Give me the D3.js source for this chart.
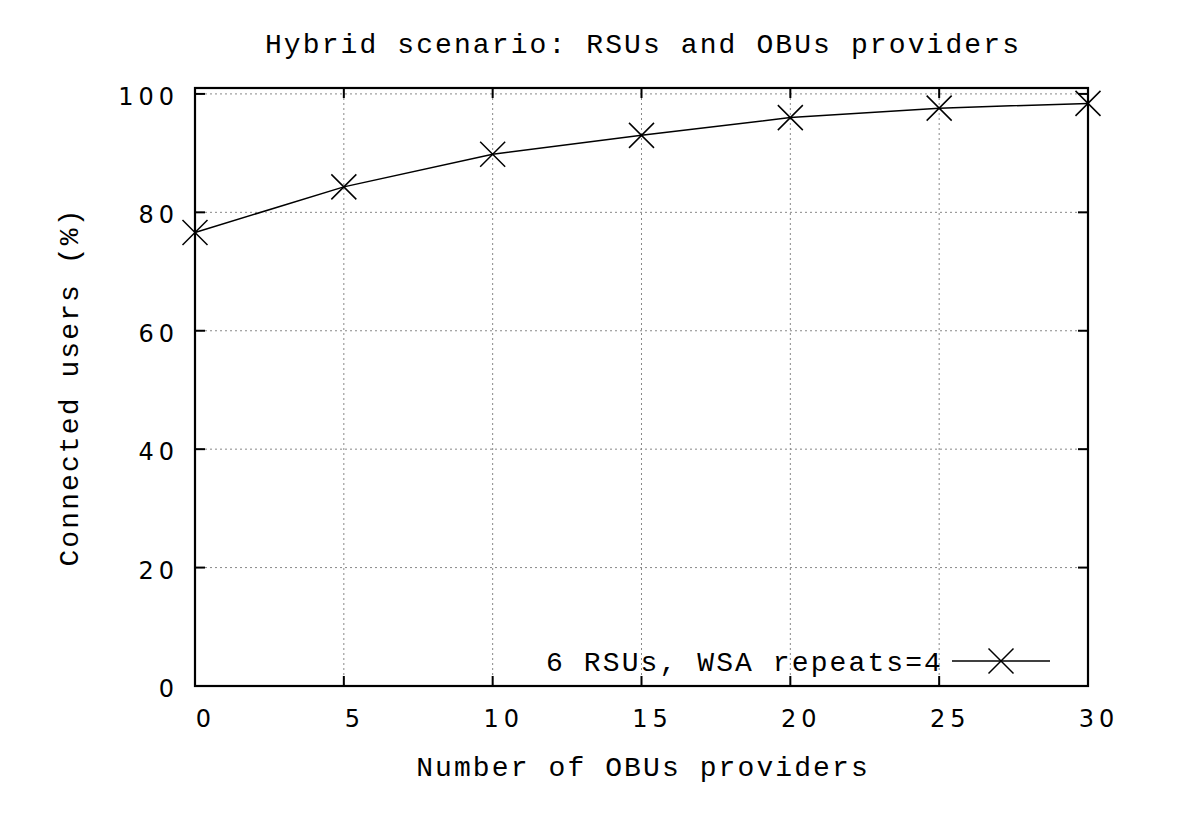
<!DOCTYPE html>
<html>
<head>
<meta charset="utf-8">
<script src="https://cdn.jsdelivr.net/npm/d3@7"></script>
<style>
  body { margin: 0; background: #fff; }
  .mono { font-family: "Liberation Mono", "DejaVu Sans Mono", monospace; font-size: 28px; letter-spacing: 2.1px; fill: #000; }
  .tick-label { font-family: "DejaVu Sans", sans-serif; font-size: 24px; letter-spacing: 5px; fill: #000; }
</style>
</head>
<body>
<script>
// data
const providers = [0, 5, 10, 15, 20, 25, 30]
const connected = [76.6, 84.3, 89.8, 93.0, 96.0, 97.6, 98.4]
const xTicks = [0, 5, 10, 15, 20, 25, 30]
const yTicks = [0, 20, 40, 60, 80, 100]
const seriesName = '6 RSUs, WSA repeats=4'

const WIDTH = 1200
const HEIGHT = 838
const M = { left: 195, right: 1088, top: 88, bottom: 686 }

const svg = d3.select('body').append('svg')
  .attr('width', WIDTH)
  .attr('height', HEIGHT)

const x = d3.scaleLinear().domain([0, 30]).range([M.left, M.right])
const y = d3.scaleLinear().domain([0, 101]).range([M.bottom, M.top])

// grid
svg.append('g').selectAll('line.gx')
  .data(xTicks.slice(1, -1))
  .enter().append('line')
  .attr('x1', d => x(d)).attr('x2', d => x(d))
  .attr('y1', M.top).attr('y2', M.bottom)
  .attr('stroke', '#888').attr('stroke-width', 1).attr('stroke-dasharray', '2,3')

svg.append('g').selectAll('line.gy')
  .data(yTicks.slice(1))
  .enter().append('line')
  .attr('x1', M.left).attr('x2', M.right)
  .attr('y1', d => y(d)).attr('y2', d => y(d))
  .attr('stroke', '#888').attr('stroke-width', 1).attr('stroke-dasharray', '2,3')

// ticks on all four sides, pointing inward
const TICK = 10
const tickG = svg.append('g').attr('stroke', '#000').attr('stroke-width', 2)
xTicks.forEach(d => {
  tickG.append('line').attr('x1', x(d)).attr('x2', x(d)).attr('y1', M.bottom).attr('y2', M.bottom - TICK)
  tickG.append('line').attr('x1', x(d)).attr('x2', x(d)).attr('y1', M.top).attr('y2', M.top + TICK)
})
yTicks.forEach(d => {
  tickG.append('line').attr('x1', M.left).attr('x2', M.left + TICK).attr('y1', y(d)).attr('y2', y(d))
  tickG.append('line').attr('x1', M.right).attr('x2', M.right - TICK).attr('y1', y(d)).attr('y2', y(d))
})

// frame
svg.append('rect')
  .attr('x', M.left).attr('y', M.top)
  .attr('width', M.right - M.left).attr('height', M.bottom - M.top)
  .attr('fill', 'none').attr('stroke', '#000').attr('stroke-width', 2.2)

// tick labels
svg.append('g').selectAll('text')
  .data(xTicks)
  .enter().append('text')
  .attr('class', 'tick-label')
  .attr('x', d => x(d) + 11)
  .attr('y', 727)
  .attr('text-anchor', 'middle')
  .text(d => d)

svg.append('g').selectAll('text')
  .data(yTicks)
  .enter().append('text')
  .attr('class', 'tick-label')
  .attr('x', 179)
  .attr('y', d => y(d) + 11)
  .attr('text-anchor', 'end')
  .text(d => d)

// titles
svg.append('text').attr('class', 'mono')
  .attr('x', 643).attr('y', 53).attr('text-anchor', 'middle')
  .text('Hybrid scenario: RSUs and OBUs providers')

svg.append('text').attr('class', 'mono')
  .attr('x', 643).attr('y', 776).attr('text-anchor', 'middle')
  .text('Number of OBUs providers')

svg.append('text').attr('class', 'mono')
  .attr('transform', 'translate(78,387) rotate(-90)')
  .attr('text-anchor', 'middle')
  .text('Connected users (%)')

// series
const line = d3.line().x((d, i) => x(providers[i])).y(d => y(d))
svg.append('path')
  .datum(connected)
  .attr('d', line)
  .attr('fill', 'none').attr('stroke', '#000').attr('stroke-width', 1.5)

const S = 12.5
function cross(g, cx, cy) {
  g.append('path')
    .attr('d', `M${cx - S},${cy - S}L${cx + S},${cy + S}M${cx - S},${cy + S}L${cx + S},${cy - S}`)
    .attr('stroke', '#000').attr('stroke-width', 1.5).attr('fill', 'none')
}
const marks = svg.append('g')
connected.forEach((d, i) => cross(marks, x(providers[i]), y(d)))

// legend
const LY = 661
svg.append('text').attr('class', 'mono')
  .attr('x', 943).attr('y', LY + 10).attr('text-anchor', 'end')
  .text(seriesName)
svg.append('line')
  .attr('x1', 952).attr('x2', 1050).attr('y1', LY).attr('y2', LY)
  .attr('stroke', '#000').attr('stroke-width', 1.5)
cross(svg, 1001, LY)
</script>
</body>
</html>
